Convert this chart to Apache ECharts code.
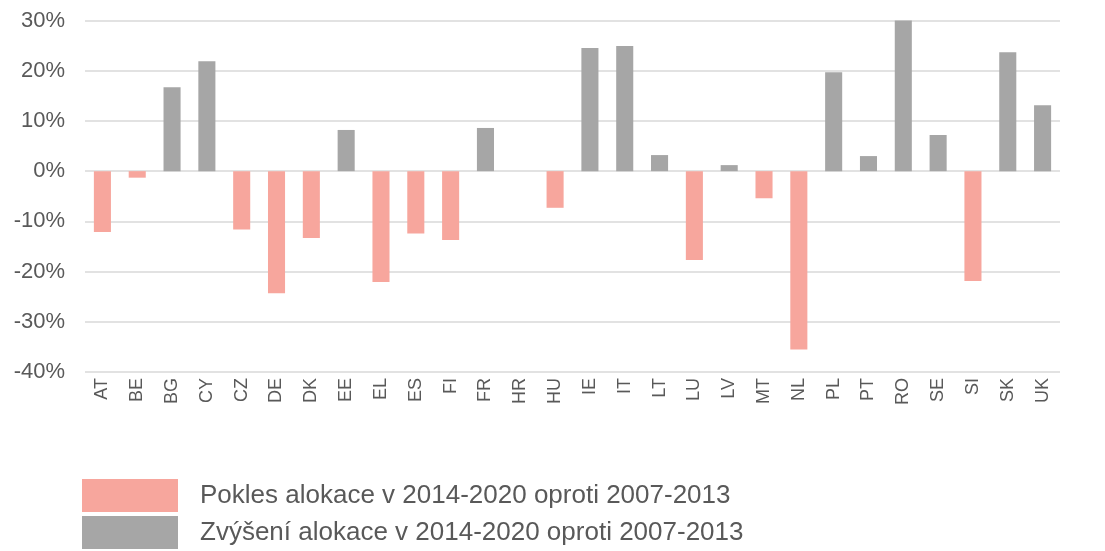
<!DOCTYPE html>
<html>
<head>
<meta charset="utf-8">
<script src="https://cdn.jsdelivr.net/npm/echarts@6/dist/echarts.min.js"></script>
<style>
html,body{margin:0;padding:0;background:#fff;}
#c{width:1105px;height:551px;}
</style>
</head>
<body>
<div id="c"></div>
<script>
const categories = ['AT','BE','BG','CY','CZ','DE','DK','EE','EL','ES','FI','FR','HR','HU','IE','IT','LT','LU','LV','MT','NL','PL','PT','RO','SE','SI','SK','UK'];
const changes = [-12.1,-1.3,16.7,21.9,-11.6,-24.3,-13.3,8.2,-22.1,-12.4,-13.7,8.6,0,-7.3,24.5,24.9,3.2,-17.7,1.2,-5.4,-35.5,19.7,3.0,30.0,7.2,-21.9,23.7,13.1];
const seriesNames = ['Pokles alokace v 2014-2020 oproti 2007-2013','Zvýšení alokace v 2014-2020 oproti 2007-2013'];
const yTicks = {min:-40, max:30, interval:10};

const decrease = changes.map(v => v < 0 ? v : null);
const increase = changes.map(v => v > 0 ? v : null);

const chart = echarts.init(document.getElementById('c'));
const font = 'Liberation Sans, Arial, sans-serif';
function legendFor(name, top){
  return {
    orient:'vertical', left:82, top:top, itemWidth:96, itemHeight:33, padding:0,
    icon:'rect',
    textStyle:{fontSize:26,color:'#595959',fontFamily:font,padding:[0,0,0,17]},
    data:[name]
  };
}
chart.setOption({
  animation:false,
  textStyle:{fontFamily:font},
  grid:{left:85,right:45,top:20.5,bottom:179,containLabel:false},
  legend:[legendFor(seriesNames[0],479), legendFor(seriesNames[1],516)],
  xAxis:{
    type:'category', data:categories,
    axisLine:{show:false}, axisTick:{show:false},
    axisLabel:{rotate:90,fontSize:18,color:'#595959',margin:6,interval:0,fontFamily:font}
  },
  yAxis:{
    type:'value', min:yTicks.min, max:yTicks.max, interval:yTicks.interval,
    axisLabel:{formatter:'{value}%',fontSize:22,color:'#595959',margin:20,fontFamily:font},
    axisLine:{show:false}, axisTick:{show:false},
    splitLine:{lineStyle:{color:'#d9d9d9',width:1.5}}
  },
  series:[
    {name:seriesNames[0],type:'bar',stack:'t',data:decrease,barWidth:'49%',itemStyle:{color:'#F7A69D'}},
    {name:seriesNames[1],type:'bar',stack:'t',data:increase,barWidth:'49%',itemStyle:{color:'#A6A6A6'}}
  ]
});
</script>
</body>
</html>
